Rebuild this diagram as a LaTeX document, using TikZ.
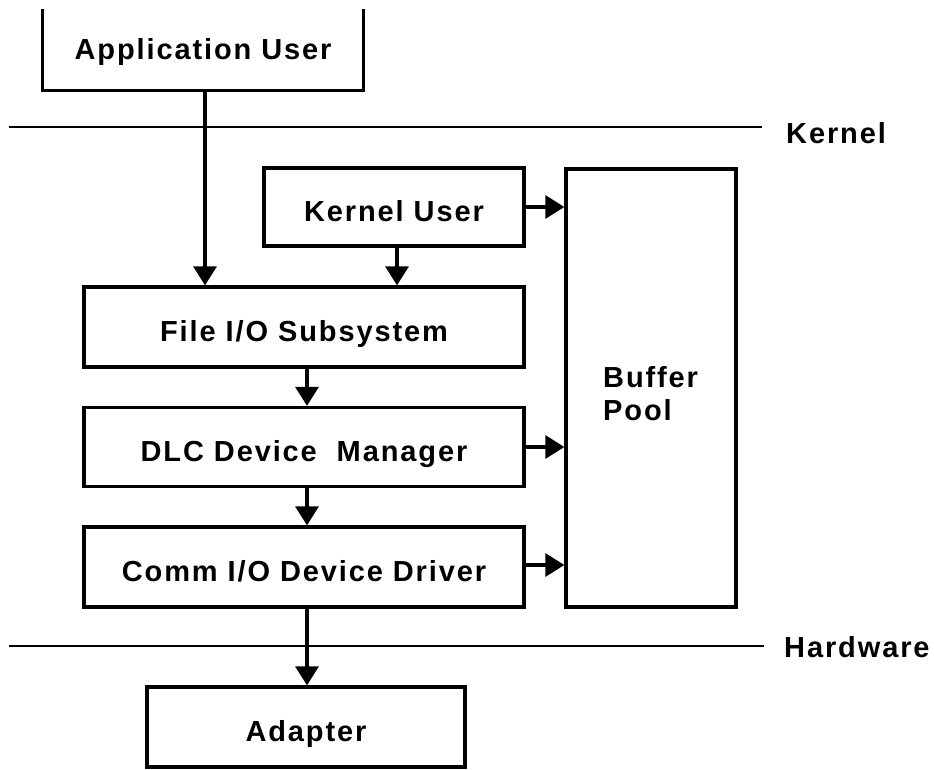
\documentclass[tikz,border=0pt]{standalone}
\usepackage{fontspec}
\setmainfont{Liberation Sans}[LetterSpace=6.5]
\usetikzlibrary{arrows.meta}
\tikzset{
  box/.style={draw, line width=3.3pt, inner sep=0pt, font=\bfseries\fontsize{29}{33}\selectfont,
              text height=29pt, text depth=0pt},
  arr/.style={line width=3.2pt, -{Triangle[length=19pt,width=23pt]}},
  layer/.style={line width=2pt},
  lbl/.style={font=\bfseries\fontsize{29}{33}\selectfont, inner sep=0pt, anchor=west}
}
\begin{document}
\begin{tikzpicture}[x=1pt,y=-1pt]
\useasboundingbox (0,0) rectangle (934,769);
% layer lines
\draw[layer] (9,127) -- (762,127);
\draw[layer] (9,646) -- (764,646);
\node[lbl] (kern) at (786,133) {Kernel};
\node[lbl] (hard) at (784,647) {Hardware};
% boxes
\node[box, draw=none, minimum width=318pt, minimum height=88pt] (app) at (203,45) {Application User};
\draw[line width=3.3pt] ([yshift=-10pt]app.north west) -- (app.south west) -- (app.south east) -- ([yshift=-10pt]app.north east);
\node[box, minimum width=260pt, minimum height=78pt] (kuser) at (394,207) {Kernel User};
\node[box, minimum width=440pt, minimum height=80pt] (file) at (304,327) {File I/O Subsystem};
\node[box, minimum width=440pt, minimum height=79pt] (dlc) at (304,447) {DLC Device\ \ Manager};
\node[box, minimum width=440pt, minimum height=80pt] (comm) at (304,567) {Comm I/O Device Driver};
\node[box, minimum width=318pt, minimum height=80pt] (adapt) at (306,727) {Adapter};
\node[box, minimum width=170pt, minimum height=438pt] (buf) at (651,388) {};
\node[font=\bfseries\fontsize{29}{33}\selectfont, align=left, inner sep=0pt, anchor=north west] (buftext) at (603,366) {Buffer\\Pool};
% arrows
\draw[arr] ([xshift=2pt]app.south) -- ([xshift=2pt]app.south |- file.north);
\draw[arr] ([xshift=3pt]kuser.south) -- ([xshift=3pt]kuser.south |- file.north);
\draw[arr] ([xshift=3pt]file.south) -- ([xshift=3pt]dlc.north);
\draw[arr] ([xshift=3pt]dlc.south) -- ([xshift=3pt]comm.north);
\draw[arr] ([xshift=3pt]comm.south) -- ([xshift=3pt]comm.south |- adapt.north);
\draw[arr] (kuser.east) -- (kuser.east -| buf.west);
\draw[arr] (dlc.east) -- (dlc.east -| buf.west);
\draw[arr] ([yshift=2pt]comm.east) -- ([yshift=2pt]comm.east -| buf.west);
\end{tikzpicture}
\end{document}
